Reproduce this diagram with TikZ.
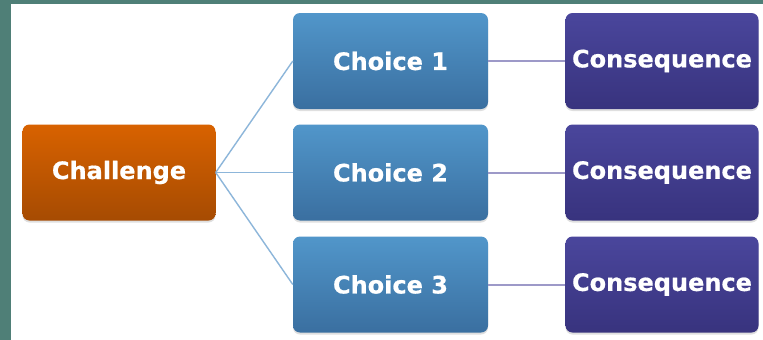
\documentclass[tikz,border=0pt]{standalone}
\usepackage{fontspec}
\setmainfont{DejaVu Sans}
\newfontfamily\boxfont{DejaVu Sans Bold}[FakeBold=0.6]
\usetikzlibrary{shadows}

\definecolor{slide}{HTML}{4F7F77}
\definecolor{challtop}{HTML}{D86200}
\definecolor{challbot}{HTML}{A64B02}
\definecolor{choicetop}{HTML}{5196CA}
\definecolor{choicebot}{HTML}{3A6FA0}
\definecolor{consqtop}{HTML}{4A469C}
\definecolor{consqbot}{HTML}{38337E}
\definecolor{bluelink}{HTML}{8DB6DA}
\definecolor{purplelink}{HTML}{9D99C8}

\tikzset{
  box/.style={rounded corners=7pt, minimum width=193pt, minimum height=96pt,
    inner sep=0pt, text=white, font=\boxfont\fontsize{24}{28}\selectfont,
    drop shadow={shadow xshift=0pt, shadow yshift=-2pt, opacity=0.25}},
  challbox/.style={box, top color=challtop, bottom color=challbot},
  choicebox/.style={box, minimum width=195pt, top color=choicetop, bottom color=choicebot},
  consqbox/.style={box, top color=consqtop, bottom color=consqbot},
  tochoice/.style={draw=bluelink, line width=1.4pt},
  toconsq/.style={draw=purplelink, line width=2pt}
}

\begin{document}
\begin{tikzpicture}[x=1pt, y=-1pt]
  % slide background and white panel
  \fill[slide] (0,0) rectangle (763,340);
  \fill[white] (11,4) rectangle (763,340);
  \useasboundingbox (0,0) rectangle (763,340);

  \node[challbox] (chall) at (119,172.5) {Challenge};

  \node[choicebox] (choice1) at (390.5,61) {Choice 1};
  \node[choicebox] (choice2) at (390.5,172.5) {Choice 2};
  \node[choicebox] (choice3) at (390.5,284.5) {Choice 3};

  \node[consqbox] (consq1) at (662,61) {Consequence};
  \node[consqbox] (consq2) at (662,172.5) {Consequence};
  \node[consqbox] (consq3) at (662,284.5) {Consequence};

  % links from the challenge to each choice
  \foreach \i in {1,2,3} {
    \draw[tochoice] (chall.east) -- (choice\i.west);
    \draw[toconsq] (choice\i.east) -- (consq\i.west);
  }
\end{tikzpicture}
\end{document}
